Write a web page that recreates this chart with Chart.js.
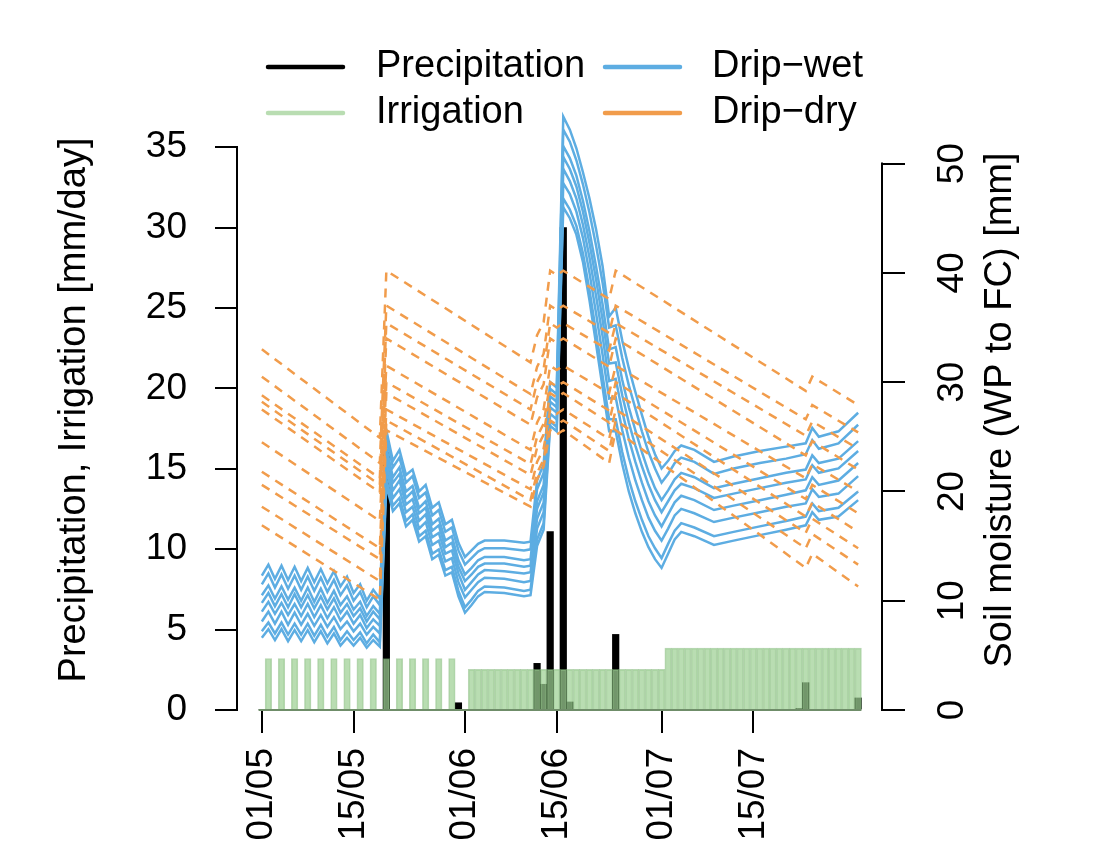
<!DOCTYPE html>
<html>
<head>
<meta charset="utf-8">
<script src="https://cdn.jsdelivr.net/npm/chart.js@4.4.1/dist/chart.umd.min.js"></script>
<style>
html, body { margin: 0; padding: 0; background: #ffffff; }
canvas { display: block; }
</style>
</head>
<body>
<canvas id="c" width="1094" height="846"></canvas>
<script>
// ---------- DATA ----------
const days = [0,1,2,3,4,5,6,7,8,9,10,11,12,13,14,15,16,17,18,19,20,21,22,23,24,25,26,27,28,29,30,31,32,33,34,35,36,37,38,39,40,41,42,43,44,45,46,47,48,49,50,51,52,53,54,55,56,57,58,59,60,61,62,63,64,65,66,67,68,69,70,71,72,73,74,75,76,77,78,79,80,81,82,83,84,85,86,87,88,89,90,91];

const precipitation = [
  0,0,0,0,0,0,0,0,0,0,
  0,0,0,0,0,0,0,0,0,16,
  0,0,0,0,0,0,0,0,0,0,
  0.45,0,0,0,0,0,0,0,0,0,
  0,0,2.9,1.6,11.1,0,30,0.5,0,0,
  0,0,0,0,4.7,0,0,0,0,0,
  0,0,0,0,0,0,0,0,0,0,
  0,0,0,0,0,0,0,0,0,0,
  0,0,0.1,1.7,0,0,0,0,0,0,
  0,0.75
];

const irrigation = [
  0,3.2,0,3.2,0,3.2,0,3.2,0,3.2,
  0,3.2,0,3.2,0,3.2,0,3.2,0,3.2,
  0,3.2,0,3.2,0,3.2,0,3.2,0,3.2,
  0,0,2.53,2.53,2.53,2.53,2.53,2.53,2.53,2.53,
  2.53,2.53,2.53,2.53,2.53,2.53,2.53,2.53,2.53,2.53,
  2.53,2.53,2.53,2.53,2.53,2.53,2.53,2.53,2.53,2.53,
  2.53,2.53,3.85,3.85,3.85,3.85,3.85,3.85,3.85,3.85,
  3.85,3.85,3.85,3.85,3.85,3.85,3.85,3.85,3.85,3.85,
  3.85,3.85,3.85,3.85,3.85,3.85,3.85,3.85,3.85,3.85,
  3.85,3.85
];

const xTickDays = [0,14,31,45,61,75];
const xTickLabels = ['01/05','15/05','01/06','15/06','01/07','15/07'];
const leftTicks = [0,5,10,15,20,25,30,35];
const rightTicks = [0,10,20,30,40,50];

// Drip-wet soil moisture (mm), sampled on wetDays
const wetDays = [0,1,2,3,4,5,6,7,8,9,10,11,12,13,14,15,16,17,18,19,20,21,22,23,24,25,26,27,28,29,30,31,32,33,34,37,40,41,42,43,44,45,46,47,48,49,50,51,52,53,54,55,56,57,58,59,60,61,62,63,64,66,69,72,76,80,83,84,85,88,91];

const wet1 = [12.3,13.3,12.0,13.2,11.9,13.1,11.8,13.0,11.7,12.9,11.6,12.7,11.3,12.2,10.7,11.5,10.0,11.0,10.2,
  25.6,22.8,23.8,21.5,22.0,20.0,20.6,18.5,19.0,17.0,17.4,15.3,14.0,
  14.6,15.2,15.5,15.5,15.3,
  15.4,21.0,22.5,30.0,29.5,
  54.3,53.1,51.4,49.2,46.8,44.0,40.6,36.0,36.8,33.8,31.3,29.1,27.0,25.0,23.4,22.1,
  22.8,23.7,24.2,
  23.8,22.7,23.2,23.7,24.1,24.4,25.8,25.0,25.5,27.2];
const wet2 = [11.5,12.5,11.2,12.4,11.1,12.3,11.0,12.2,10.9,12.1,10.8,11.9,10.5,11.4,10.0,10.8,9.4,10.4,9.6,
  24.9,22.2,23.1,20.8,21.4,19.4,19.9,17.8,18.3,16.3,16.7,14.6,13.3,
  13.9,14.5,14.8,14.8,14.6,
  14.7,20.2,21.7,29.4,28.9,
  53.1,52.0,50.3,48.1,45.5,42.5,39.1,35.0,35.2,32.2,29.7,27.6,25.5,23.6,22.1,20.8,
  21.6,22.6,23.1,
  22.7,21.6,22.1,22.6,23.0,23.4,24.7,23.9,24.4,26.1];
const wet3 = [10.5,11.4,10.2,11.3,10.1,11.2,10.0,11.2,9.9,11.1,9.8,10.9,9.6,10.4,9.2,9.9,8.6,9.5,8.8,
  24.0,21.3,22.2,20.0,20.5,18.5,19.1,17.0,17.5,15.5,15.9,13.7,12.4,
  13.0,13.7,14.0,14.0,13.7,
  13.8,19.1,20.6,28.7,28.2,
  51.6,50.5,48.9,46.6,43.8,40.6,37.1,33.0,33.2,30.2,27.7,25.6,23.6,21.8,20.3,19.2,
  20.1,21.1,21.7,
  21.3,20.3,20.7,21.2,21.7,22.0,23.3,22.6,23.0,24.6];
const wet4 = [9.8,10.7,9.5,10.6,9.4,10.6,9.4,10.5,9.3,10.4,9.2,10.2,8.9,9.7,8.6,9.3,8.1,9.0,8.3,
  23.4,20.8,21.6,19.4,20.0,18.0,18.5,16.4,16.9,14.9,15.3,13.1,11.8,
  12.4,13.1,13.4,13.4,13.1,
  13.2,18.4,19.9,28.2,27.7,
  50.6,49.5,47.9,45.6,42.7,39.4,35.7,31.7,31.8,28.8,26.3,24.2,22.3,20.6,19.2,18.1,
  19.1,20.1,20.7,
  20.3,19.4,19.8,20.3,20.8,21.1,22.4,21.7,22.1,23.7];
const wet5 = [9.0,9.9,8.8,9.8,8.7,9.7,8.6,9.7,8.5,9.6,8.4,9.4,8.2,9.0,7.9,8.7,7.5,8.3,7.7,
  22.7,20.1,21.0,18.8,19.3,17.3,17.9,15.8,16.2,14.3,14.6,12.5,11.0,
  11.7,12.4,12.8,12.7,12.5,
  12.6,17.5,19.0,27.7,27.2,
  49.5,48.4,46.8,44.4,41.4,37.9,34.2,30.1,30.3,27.3,24.8,22.7,20.8,19.1,17.8,16.8,
  17.9,19.0,19.6,
  19.2,18.3,18.7,19.2,19.7,20.1,21.3,20.6,21.0,22.6];
const wet6 = [8.1,9.0,7.9,9.0,7.8,8.9,7.8,8.8,7.7,8.7,7.6,8.5,7.4,8.1,7.2,7.9,6.9,7.6,7.0,
  22.0,19.4,20.2,18.1,18.6,16.6,17.2,15.1,15.5,13.6,13.9,11.7,10.3,
  11.0,11.7,12.1,12.0,11.7,
  11.8,16.6,18.1,27.1,26.6,
  48.2,47.2,45.6,43.2,40.0,36.3,32.5,28.5,28.6,25.6,23.1,21.0,19.2,17.6,16.4,15.5,
  16.6,17.8,18.4,
  18.0,17.2,17.6,18.1,18.6,18.9,20.2,19.5,19.8,21.4];
const wet7 = [7.2,8.0,7.0,8.0,6.9,7.9,6.9,7.9,6.8,7.8,6.7,7.6,6.4,7.2,6.4,7.1,6.1,6.9,6.2,
  21.1,18.7,19.4,17.3,17.9,15.9,16.4,14.3,14.7,12.8,13.1,10.9,9.4,
  10.1,10.9,11.3,11.2,10.9,
  11.0,15.6,17.1,26.4,25.9,
  46.8,45.8,44.3,41.8,38.4,34.6,30.6,26.6,26.6,23.6,21.1,19.1,17.4,15.9,14.8,13.9,
  15.2,16.4,17.1,
  16.7,15.9,16.3,16.8,17.3,17.7,18.9,18.2,18.5,20.0];
const wet8 = [6.6,7.4,6.4,7.4,6.3,7.3,6.3,7.3,6.2,7.2,6.1,7.0,5.9,6.6,5.9,6.6,5.7,6.4,5.8,
  20.6,18.2,18.9,16.8,17.4,15.4,15.9,13.8,14.2,12.3,12.6,10.4,8.9,
  9.6,10.4,10.8,10.7,10.4,
  10.5,15.0,16.5,26.0,25.5,
  46.0,45.0,43.5,41.0,37.5,33.5,29.5,25.5,25.5,22.5,20.0,18.0,16.3,14.9,13.8,13.0,
  14.3,15.6,16.3,
  15.9,15.1,15.5,16.0,16.5,16.9,18.1,17.4,17.7,19.2];

// Drip-dry soil moisture (mm), breakpoints on dryDays
const dryDays = [0,18,19,41,42,43,44,45,46,53,54,83,84,91];
const dry1  = [33.0,24.9,40.2,31.8,34.3,35.5,40.2,39.8,40.2,37.6,40.2,29.2,30.5,27.9];
const dry2  = [30.5,22.6,37.0,28.9,31.4,32.6,37.0,36.6,37.0,34.5,37.0,26.6,27.9,25.4];
const dry3  = [28.8,21.2,35.4,27.5,30.0,31.2,35.4,35.0,35.4,32.9,35.4,25.1,26.4,23.9];
const dry4  = [28.2,20.6,34.0,26.1,28.6,29.8,34.0,33.6,34.0,31.4,34.0,23.3,24.6,22.0];
const dry5  = [27.5,19.9,31.5,23.8,26.3,27.5,31.5,31.1,31.5,29.0,31.5,21.2,22.5,20.0];
const dry6  = [24.5,17.3,30.0,22.5,25.0,26.2,30.0,29.6,30.0,27.4,30.0,19.3,20.6,18.0];
const dry7  = [21.8,14.8,29.0,21.5,24.0,25.2,29.0,28.6,29.0,26.3,29.0,17.7,19.0,16.3];
const dry8  = [20.6,13.8,27.5,20.2,22.7,23.9,27.5,27.1,27.5,24.8,27.5,16.2,17.5,14.8];
const dry9  = [18.6,11.8,26.5,19.2,21.7,22.9,26.5,26.1,26.5,23.7,26.5,14.8,16.1,13.3];
const dry10 = [16.9,10.1,25.6,18.6,21.1,22.3,25.6,25.2,25.6,22.6,25.6,13.0,14.3,11.3];

const wetSeries = [wet1, wet2, wet3, wet4, wet5, wet6, wet7, wet8];
const drySeries = [dry1, dry2, dry3, dry4, dry5, dry6, dry7, dry8, dry9, dry10];

// ---------- STYLE ----------
const FONT = '"Liberation Sans", Arial, Helvetica, sans-serif';
const BLUE = '#5DADE2';
const ORANGE = '#F19C4B';
const GREEN_FILL = 'rgba(158,208,148,0.72)';
const GREEN_EDGE = 'rgba(128,182,118,0.55)';
const BASE_LINE = '#6f8d69';

Chart.defaults.font.family = FONT;
Chart.defaults.color = '#000';

const toXY = (xs, ys) => xs.map((x, i) => ({ x: x, y: ys[i] }));

const datasets = [];
datasets.push({
  type: 'bar', label: 'Precipitation', data: toXY(days, precipitation),
  xAxisID: 'x', yAxisID: 'yL', backgroundColor: '#000000', borderWidth: 0,
  grouped: false, barPercentage: 1, categoryPercentage: 1, order: 4
});
datasets.push({
  type: 'bar', label: 'Irrigation', data: toXY(days, irrigation),
  xAxisID: 'x', yAxisID: 'yL', backgroundColor: GREEN_FILL, borderColor: GREEN_EDGE,
  borderWidth: 1, grouped: false, barPercentage: 1, categoryPercentage: 1, order: 3
});
wetSeries.forEach((s, i) => datasets.push({
  type: 'line', label: 'Drip-wet ' + (i + 1), data: toXY(wetDays, s),
  xAxisID: 'x', yAxisID: 'yR', borderColor: BLUE, borderWidth: 2.5,
  pointRadius: 0, tension: 0, fill: false, order: 2
}));
drySeries.forEach((s, i) => datasets.push({
  type: 'line', label: 'Drip-dry ' + (i + 1), data: toXY(dryDays, s),
  xAxisID: 'x', yAxisID: 'yR', borderColor: ORANGE, borderWidth: 2.5,
  borderDash: [9, 7], pointRadius: 0, tension: 0, fill: false, order: 1
}));

// ---------- PLUGINS ----------
const legendItems = [
  { text: 'Precipitation', color: '#000000', col: 0, row: 0 },
  { text: 'Irrigation', color: GREEN_FILL, col: 0, row: 1 },
  { text: 'Drip\u2212wet', color: BLUE, col: 1, row: 0 },
  { text: 'Drip\u2212dry', color: ORANGE, col: 1, row: 1 }
];
const legendLayout = { lineX: [268, 605], lineLen: 75, textX: [376, 712], rowY: [67, 113] };

const customDraw = {
  id: 'customDraw',
  afterDatasetsDraw(chart) {
    const { ctx, scales } = chart;
    const x = scales.x, yL = scales.yL;
    ctx.save();
    ctx.strokeStyle = BASE_LINE;
    ctx.lineWidth = 2;
    ctx.beginPath();
    const y0 = yL.getPixelForValue(0);
    ctx.moveTo(x.getPixelForValue(days[0] - 0.5), y0);
    ctx.lineTo(x.getPixelForValue(days[days.length - 1] + 0.5), y0);
    ctx.stroke();
    ctx.restore();
  },
  afterDraw(chart) {
    const { ctx, chartArea, scales } = chart;
    const yL = scales.yL, yR = scales.yR;
    ctx.save();
    ctx.strokeStyle = '#000';
    ctx.lineWidth = 2;
    ctx.beginPath();
    ctx.moveTo(chartArea.left - 1, yL.getPixelForValue(leftTicks[0]) + 1);
    ctx.lineTo(chartArea.left - 1, yL.getPixelForValue(leftTicks[leftTicks.length - 1]) - 1);
    ctx.moveTo(chartArea.right, yR.getPixelForValue(rightTicks[0]) + 1);
    ctx.lineTo(chartArea.right, yR.getPixelForValue(rightTicks[rightTicks.length - 1]) - 1);
    ctx.stroke();

    ctx.fillStyle = '#000';
    ctx.font = '38px ' + FONT;
    ctx.textAlign = 'center';
    ctx.textBaseline = 'middle';
    ctx.save();
    ctx.translate(1001, (chartArea.top + chartArea.bottom) / 2);
    ctx.rotate(-Math.PI / 2);
    ctx.fillText('Soil moisture (WP to FC) [mm]', 0, 0);
    ctx.restore();

    ctx.lineCap = 'round';
    ctx.lineWidth = 4.5;
    ctx.textAlign = 'left';
    legendItems.forEach(it => {
      const lx = legendLayout.lineX[it.col];
      const ly = legendLayout.rowY[it.row];
      ctx.strokeStyle = it.color;
      ctx.beginPath();
      ctx.moveTo(lx, ly);
      ctx.lineTo(lx + legendLayout.lineLen, ly);
      ctx.stroke();
      ctx.fillStyle = '#000';
      ctx.fillText(it.text, legendLayout.textX[it.col], ly);
    });
    ctx.restore();
  }
};

// ---------- CHART ----------
new Chart(document.getElementById('c'), {
  data: { datasets: datasets },
  options: {
    responsive: false,
    animation: false,
    devicePixelRatio: 1,
    layout: { padding: { top: 110, left: 0, right: 0, bottom: 0 } },
    plugins: { legend: { display: false }, tooltip: { enabled: false } },
    scales: {
      x: {
        type: 'linear', position: 'bottom', min: -3.64, max: 94.64, offset: false,
        afterBuildTicks: s => { s.ticks = xTickDays.map(v => ({ value: v })); },
        afterFit: s => { s.height = 136; },
        grid: { display: true, offset: false, drawOnChartArea: false, drawTicks: true, tickLength: 23, color: '#000', lineWidth: 2 },
        border: { display: false },
        ticks: {
          autoSkip: false, minRotation: 90, maxRotation: 90, padding: 15, color: '#000',
          font: { family: FONT, size: 37 },
          callback: (v, i) => xTickLabels[i]
        }
      },
      yL: {
        type: 'linear', position: 'left', min: 0, max: 37.31,
        afterBuildTicks: s => { s.ticks = leftTicks.map(v => ({ value: v })); },
        afterFit: s => { s.width = 238; },
        grid: { display: true, drawOnChartArea: false, drawTicks: true, tickLength: 23, color: '#000', lineWidth: 2 },
        border: { display: false },
        ticks: { padding: 28, color: '#000', font: { family: FONT, size: 37 } },
        title: {
          display: true, text: 'Precipitation, Irrigation [mm/day]', color: '#000',
          font: { family: FONT, size: 38 }, padding: { top: 52, bottom: 0 }
        }
      },
      yR: {
        type: 'linear', position: 'right', min: 0, max: 54.9,
        afterBuildTicks: s => { s.ticks = rightTicks.map(v => ({ value: v })); },
        afterFit: s => { s.width = 212; },
        grid: { display: true, drawOnChartArea: false, drawTicks: true, tickLength: 23, color: '#000', lineWidth: 2 },
        border: { display: false },
        ticks: {
          minRotation: 90, maxRotation: 90, crossAlign: 'center', padding: 27, color: '#000',
          font: { family: FONT, size: 37 }
        }
      }
    }
  },
  plugins: [customDraw]
});
</script>
</body>
</html>
